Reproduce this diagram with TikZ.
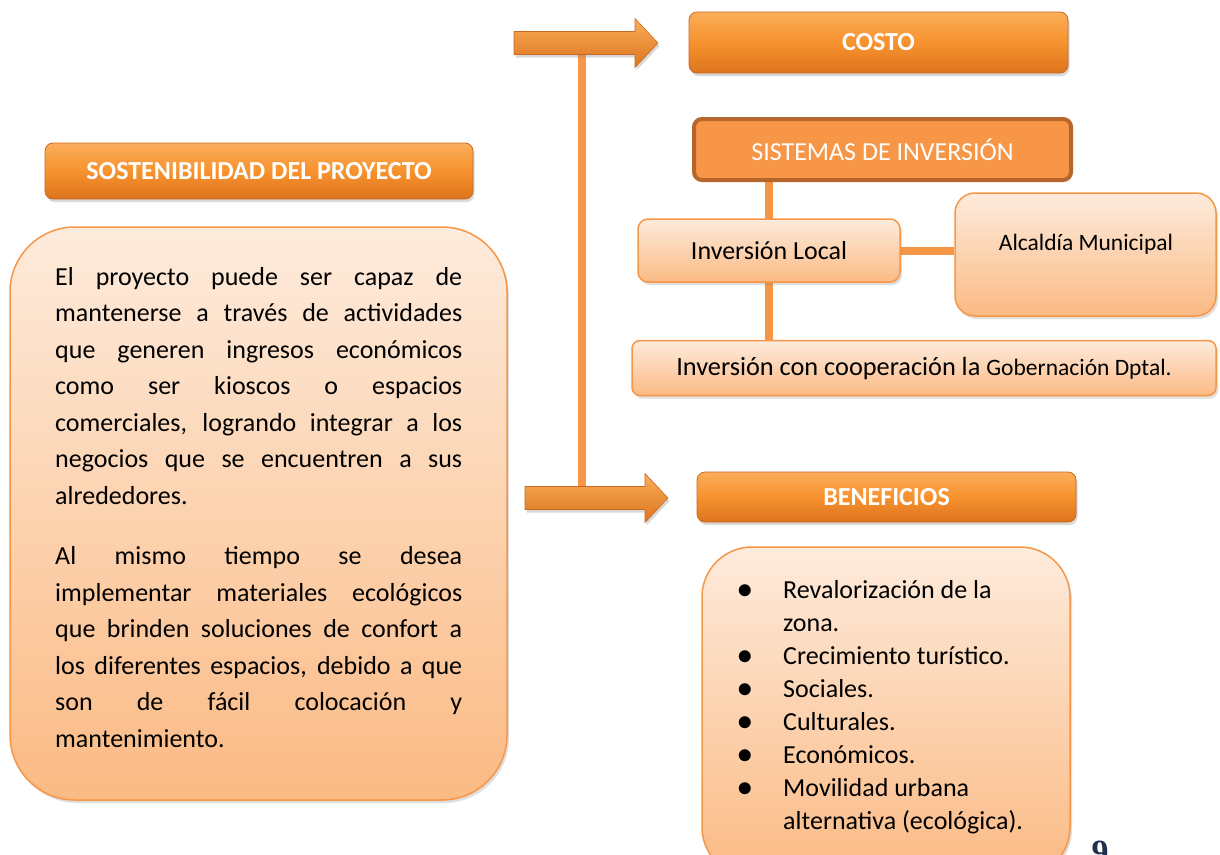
\documentclass[tikz,border=0pt]{standalone}
\usepackage{fontspec}
\setmainfont{Carlito}
\newfontfamily\pagenumfont{Liberation Serif}
\usepackage{tikz}
\usetikzlibrary{
    shadows,
    backgrounds,
    positioning
}
\definecolor{hdrTop}{HTML}{FAAE5A}
\definecolor{hdrMid}{HTML}{F7922E}
\definecolor{hdrBot}{HTML}{DC741E}
\definecolor{hdrLine}{HTML}{C86A22}
\definecolor{peachTop}{HTML}{FDEBDC}
\definecolor{peachBot}{HTML}{FBBA84}
\definecolor{peachLine}{HTML}{F79646}
\definecolor{sisFill}{HTML}{F79646}
\definecolor{sisLine}{HTML}{B7662B}
\definecolor{stemOrange}{HTML}{F79646}
\definecolor{pageNum}{HTML}{1F3050}

\newcommand{\descfont}{\fontsize{26}{36.5}\selectfont}
\newcommand{\benefont}{\fontsize{26}{33}\selectfont}
\newcommand{\fatarrow}[2]{%
    \path[fatarr] (#1) ++(0,-11.5) -- ++(#2,0) -- ++(0,-13) -- ++(23,24.5)
        -- ++(-23,24.5) -- ++(0,-13) -- ++(-#2,0) -- cycle;}
\newcommand{\benefitem}[1]{\par\hangindent=48pt\hangafter=1\noindent
    \makebox[48pt][l]{\hspace{2pt}\scalebox{1.25}{$\bullet$}}#1}
\hyphenpenalty=10000
\exhyphenpenalty=10000

\begin{document}
\begin{tikzpicture}[x=1pt, y=-1pt,
    header/.style={rounded corners=8, top color=hdrTop, bottom color=hdrBot,
        middle color=hdrMid, draw=hdrLine, line width=0.8, inner sep=0,
        drop shadow={opacity=0.3, shadow xshift=1.5pt, shadow yshift=-3pt},
        text=white, font=\fontsize{26}{30}\selectfont\bfseries},
    peach/.style={top color=peachTop, bottom color=peachBot, draw=peachLine,
        line width=1.5, inner sep=0,
        drop shadow={opacity=0.25, shadow xshift=2pt, shadow yshift=-3pt}},
    sistemasbox/.style={rounded corners=8, fill=sisFill, draw=sisLine,
        line width=4, inner sep=0, text=white,
        font=\fontsize{26}{30}\selectfont},
    bodytext/.style={font=\descfont, text width=407, align=justify, inner sep=0},
    listtext/.style={font=\benefont, text width=320, align=flush left, inner sep=0},
    stem/.style={draw=stemOrange, line width=8},
    fatarr/.style={top color=hdrTop, bottom color=hdrBot, draw=hdrLine,
        line width=0.6,
        drop shadow={opacity=0.3, shadow xshift=1.5pt, shadow yshift=-3pt}}]
\useasboundingbox (0,0) rectangle (1220,854);
\clip (0,0) rectangle (1220,854);

% left column
\node[header, minimum width=428, minimum height=56] (title) at (259,171)
    {SOSTENIBILIDAD DEL PROYECTO};
\node[peach, rounded corners=65, minimum width=497, minimum height=573]
    (descBox) at (258.5,513.5) {};
\node[bodytext, anchor=north west] (descText) at (55,267) {\tolerance=10000
    El proyecto puede ser capaz de\linebreak
    mantenerse a través de actividades\linebreak
    que generen ingresos económicos\linebreak
    como ser kioscos o espacios\linebreak
    comerciales, logrando integrar a los\linebreak
    negocios que se encuentren a sus\linebreak
    alrededores.\par\vspace{24pt}
    Al mismo tiempo se desea\linebreak
    implementar materiales ecológicos\linebreak
    que brinden soluciones de confort a\linebreak
    los diferentes espacios, debido a que\linebreak
    son de fácil colocación y\linebreak
    mantenimiento.};

% bracket with the two arrows
\coordinate (costoTail) at (514,43);
\coordinate (benefTail) at (525,498);
\coordinate (stemTop) at (582,50);
\coordinate (stemBot) at (582,490);
\draw[stem] (stemTop) -- (stemBot);
\fatarrow{costoTail}{121}
\fatarrow{benefTail}{120}

% right column
\node[header, minimum width=379, minimum height=61] (costo) at (878.5,42.5)
    {COSTO};
\node[sistemasbox, minimum width=377, minimum height=61] (sistemas)
    at (882.5,149.5) {SISTEMAS DE INVERSIÓN};
\node[peach, rounded corners=10, minimum width=262, minimum height=63,
    font=\descfont] (local) at (769,250.5) {Inversión Local};
\node[peach, rounded corners=20, minimum width=261, minimum height=123]
    (alcaldia) at (1085.5,254.5) {};
\node[anchor=base, inner sep=0, font=\fontsize{23.5}{28}\selectfont]
    (alcaldiaText) at (1086,250) {Alcaldía Municipal};
\node[peach, rounded corners=8, minimum width=584, minimum height=55,
    font=\fontsize{26.3}{30}\selectfont] (coop) at (924,368)
    {Inversión con cooperación la {\fontsize{23.5}{27}\selectfont Gobernación Dptal.}};
\begin{scope}[on background layer]
\draw[stem] (local.center |- sistemas.south) -- (local.center |- coop.north);
\draw[stem] (local.east) -- (alcaldia.west |- local.east);
\end{scope}

\node[header, minimum width=379, minimum height=50] (benef) at (886.5,497)
    {BENEFICIOS};
\node[peach, rounded corners=50, minimum width=368, minimum height=330]
    (benefBox) at (886,712) {};
\node[listtext, anchor=north west] (benefList) at (735,565) {%
    \benefitem{Revalorización de la\newline zona.}
    \benefitem{Crecimiento turístico.}
    \benefitem{Sociales.}
    \benefitem{Culturales.}
    \benefitem{Económicos.}
    \benefitem{Movilidad urbana\newline alternativa (ecológica).}\par};

\node[anchor=north, inner sep=0, text=pageNum,
    font=\pagenumfont\bfseries\fontsize{34}{34}\selectfont]
    (pagenum) at (1100,841) {9};
\end{tikzpicture}
\end{document}
